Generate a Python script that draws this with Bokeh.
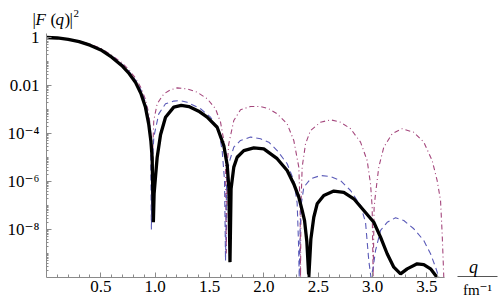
from bokeh.plotting import figure
from bokeh.models import FixedTicker, Label
from bokeh.embed import file_html
from bokeh.resources import INLINE

# ---------------- data (q in fm^-1, log10 |F(q)|^2) -------------
# (dips that run down to the q axis are read as the axis value, 1e-10)
q_black = [0.0, 0.1, 0.2, 0.3, 0.4, 0.5, 0.6, 0.7, 0.76, 0.82, 0.87, 0.91, 0.94, 0.96, 0.972,
           0.983, 0.990, 1.003, 1.018, 1.049, 1.095, 1.171, 1.24, 1.31, 1.4, 1.478, 1.57, 1.631,
           1.662, 1.678, 1.688, 1.698, 1.723, 1.754, 1.815, 1.907, 1.999, 2.122, 2.214, 2.275,
           2.321, 2.352, 2.374, 2.395, 2.413, 2.432, 2.459, 2.49, 2.551, 2.643, 2.735, 2.827,
           2.919, 3.011, 3.073, 3.134, 3.195, 3.257, 3.318, 3.41, 3.471, 3.533, 3.594]
lg_black = [0.0, -0.02, -0.08, -0.17, -0.32, -0.52, -0.82, -1.2, -1.5, -1.88, -2.35, -2.9, -3.6,
            -4.3, -5.0, -7.7, -6.5, -5.8, -5.0, -4.05, -3.32, -2.9, -2.83, -2.88, -3.07, -3.32,
            -3.74, -4.5, -5.3, -6.3, -9.36, -6.3, -5.4, -4.99, -4.71, -4.6, -4.64, -5.05, -5.54,
            -6.1, -6.65, -7.2, -7.63, -8.5, -10.0, -8.4, -7.49, -6.93, -6.58, -6.4, -6.45, -6.72,
            -7.21, -7.7, -8.32, -9.01, -9.57, -9.85, -9.64, -9.43, -9.46, -9.64, -10.0]

q_blue = [0.0, 0.1, 0.2, 0.3, 0.4, 0.5, 0.6, 0.7, 0.76, 0.82, 0.87, 0.91, 0.935, 0.95, 0.958,
          0.965, 0.972, 0.987, 1.033, 1.095, 1.171, 1.23, 1.294, 1.417, 1.509, 1.585, 1.616,
          1.638, 1.647, 1.657, 1.677, 1.723, 1.785, 1.877, 1.969, 2.045, 2.122, 2.214, 2.275,
          2.306, 2.318, 2.325, 2.333, 2.345, 2.367, 2.429, 2.521, 2.613, 2.705, 2.797, 2.889,
          2.935, 2.965, 2.985, 3.005, 3.027, 3.073, 3.134, 3.211, 3.287, 3.379, 3.471, 3.533,
          3.579, 3.609, 3.62]
lg_blue = [0.0, -0.02, -0.075, -0.16, -0.3, -0.49, -0.77, -1.13, -1.42, -1.78, -2.2, -2.7, -3.2,
           -3.8, -4.6, -8.0, -5.5, -4.15, -3.18, -2.76, -2.65, -2.63, -2.7, -2.97, -3.32, -3.875,
           -4.71, -5.96, -9.3, -6.0, -5.26, -4.57, -4.29, -4.15, -4.22, -4.36, -4.71, -5.26, -5.96,
           -6.9, -8.5, -10.0, -8.0, -6.9, -6.24, -5.89, -5.75, -5.79, -5.96, -6.375, -7.0, -7.7,
           -9.3, -10.0, -9.6, -8.875, -8.04, -7.7, -7.51, -7.625, -7.97, -8.46, -9.01, -9.57,
           -9.99, -10.0]

q_red = [0.0, 0.1, 0.2, 0.3, 0.4, 0.5, 0.6, 0.7, 0.76, 0.82, 0.87, 0.91, 0.94, 0.955, 0.965,
         0.972, 0.978, 0.987, 1.018, 1.079, 1.14, 1.202, 1.294, 1.386, 1.478, 1.555, 1.601,
         1.631, 1.647, 1.654, 1.662, 1.677, 1.723, 1.785, 1.877, 1.969, 2.045, 2.122, 2.214,
         2.275, 2.321, 2.333, 2.337, 2.341, 2.352, 2.383, 2.429, 2.521, 2.613, 2.705, 2.797,
         2.889, 2.95, 2.981, 2.996, 3.005, 3.014, 3.027, 3.057, 3.103, 3.18, 3.272, 3.379,
         3.471, 3.548, 3.594, 3.625, 3.64, 3.655]
lg_red = [0.0, -0.015, -0.065, -0.15, -0.28, -0.45, -0.74, -1.08, -1.36, -1.7, -2.1, -2.58,
          -3.15, -3.7, -4.5, -7.5, -4.6, -3.46, -2.76, -2.35, -2.18, -2.1, -2.14, -2.28, -2.55,
          -2.97, -3.53, -4.29, -5.125, -9.0, -5.3, -4.43, -3.46, -3.01, -2.875, -2.875, -2.97,
          -3.18, -3.6, -4.29, -5.4, -7.0, -10.0, -7.0, -5.4, -4.43, -3.875, -3.53, -3.43, -3.53,
          -3.8, -4.36, -5.125, -6.1, -7.07, -10.0, -7.07, -6.51, -5.4, -4.57, -4.01, -3.8, -3.95,
          -4.36, -5.125, -5.96, -6.79, -8.18, -10.0]

x_ticks = [0.5, 1.0, 1.5, 2.0, 2.5, 3.0, 3.5]
x_tick_labels = ["0.5", "1.0", "1.5", "2.0", "2.5", "3.0", "3.5"]
y_ticks = [1e-8, 1e-6, 1e-4, 1e-2, 1.0]
y_tick_labels = ["10\u207b\u2078", "10\u207b\u2076", "10\u207b\u2074", "0.01", "1"]

black_vals = [10 ** v for v in lg_black]
blue_vals = [10 ** v for v in lg_blue]
red_vals = [10 ** v for v in lg_red]

# ---------------- layout ----------------
FONT = "'Liberation Serif', 'Times New Roman', 'DejaVu Serif', serif"
AXIS_GRAY = "#8a8a8a"
Q0_PAGE = 46.0        # page x of q = 0
PX_PER_Q = 108.7
ONE_PAGE = 37.0       # page y of |F|^2 = 1
AXIS_PAGE = 277.0     # page y of |F|^2 = 1e-10 (the q axis)
PX_PER_DEC = (AXIS_PAGE - ONE_PAGE) / 10.0
Y_MIN = 1e-10
OFF = 0               # page offset of the canvas


def qx(px):
    return (px - Q0_PAGE) / PX_PER_Q


def ly(py):
    return 10 ** (-(py - ONE_PAGE) / PX_PER_DEC)


W, H = 498, 299
p = figure(width=W, height=H, x_range=(qx(OFF), qx(OFF + W)), y_range=(ly(OFF + H), ly(OFF)),
           y_axis_type="log", output_backend="svg", toolbar_location=None,
           min_border_left=0, min_border_right=0, min_border_top=0, min_border_bottom=0)
p.outline_line_color = None
p.xgrid.grid_line_color = None
p.ygrid.grid_line_color = None
p.background_fill_color = "white"
p.border_fill_color = "white"

p.line(q_red, red_vals, line_color="#a4467c", line_width=1.1, line_dash="5 3 1 3")
p.line(q_blue, blue_vals, line_color="#5a5ab8", line_width=1.1, line_dash="6 4")
p.line(q_black, black_vals, line_color="black", line_width=3.3)

# x axis (drawn at |F|^2 = 1e-10)
xa = p.xaxis[0]
xa.fixed_location = Y_MIN
xa.bounds = (0, 3.66)
xa.ticker = FixedTicker(ticks=x_ticks,
                        minor_ticks=[round(0.1 * i, 1) for i in range(1, 37)])
xa.major_label_overrides = dict(zip(x_ticks, x_tick_labels))
xa.axis_line_color = AXIS_GRAY
xa.major_tick_line_color = AXIS_GRAY
xa.minor_tick_line_color = AXIS_GRAY
xa.major_tick_in = 5
xa.major_tick_out = 0
xa.minor_tick_in = 3
xa.minor_tick_out = 0
xa.major_label_standoff = 3
xa.major_label_text_font = FONT
xa.major_label_text_font_size = "17px"
xa.major_label_text_color = "black"

# y axis (drawn at q = 0)
ya = p.yaxis[0]
ya.fixed_location = 0
Y_AXIS_TOP = ly(33)
ya.bounds = (Y_MIN, Y_AXIS_TOP)
minor_y = [m * 10.0 ** k for k in range(-10, 1) for m in range(1, 10)
           if Y_MIN < m * 10.0 ** k < 1.0 and m * 10.0 ** k not in y_ticks]
ya.ticker = FixedTicker(ticks=y_ticks, minor_ticks=minor_y)
ya.major_label_overrides = dict(zip(y_ticks, y_tick_labels))
ya.axis_line_color = AXIS_GRAY
ya.major_tick_line_color = AXIS_GRAY
ya.minor_tick_line_color = AXIS_GRAY
ya.major_tick_in = 5
ya.major_tick_out = 0
ya.minor_tick_in = 2
ya.minor_tick_out = 0
ya.major_label_standoff = 7
ya.major_label_text_font = FONT
ya.major_label_text_font_size = "17px"
ya.major_label_text_color = "black"


def lab(text, px, py, size="16px", style="normal", align="left"):
    p.add_layout(Label(x=qx(px), y=ly(py), text=text, text_font=FONT,
                       text_font_size=size, text_font_style=style, text_align=align,
                       text_baseline="alphabetic", text_color="black"))


# y axis title |F(q)|^2
lab("|", 32, 19, size="17px")
lab("F", 35, 19, size="17px", style="italic")
lab("(", 50, 19, size="17px")
lab("q", 55, 19, size="17px", style="italic")
lab(")", 64, 19, size="17px")
lab("|", 69, 19, size="17px")
lab("2", 73, 13, size="11px")

# x axis title q / fm^-1
lab("q", 473, 266, size="18px", style="italic", align="center")
BAR_Q = [qx(457), qx(497)]
p.line(BAR_Q, [ly(276), ly(276)], line_color="#555555", line_width=1)
lab("fm\u207b\u00b9", 477, 289, size="15px", align="center")

open("out.html", "w").write(file_html(p, INLINE))
